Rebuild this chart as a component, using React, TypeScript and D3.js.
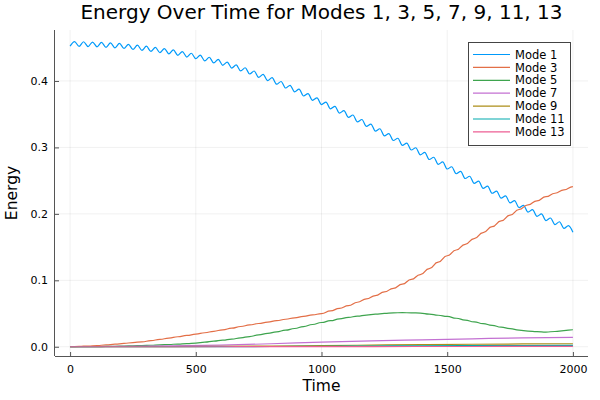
import React, { useEffect, useRef } from "react";
import * as d3 from "d3";

const modeNames = ["Mode 1", "Mode 3", "Mode 5", "Mode 7", "Mode 9", "Mode 11", "Mode 13"];
const modeColors = ["#009afa", "#e36f47", "#3ea44e", "#c371d2", "#ac8e18", "#00a9ad", "#ed5e93"];

// Mode 1: the ripple's troughs and peaks, one every 2000/112 time units
const mode1 = [
  0.4525, 0.4593, 0.4521, 0.459, 0.4518, 0.4586, 0.4514, 0.458, 0.4506, 0.4573,
  0.4499, 0.4566, 0.4489, 0.4552, 0.4475, 0.4538, 0.4461, 0.4523, 0.4444, 0.4505,
  0.4426, 0.4488, 0.4409, 0.4468, 0.4385, 0.4442, 0.436, 0.4417, 0.4335, 0.4389,
  0.4303, 0.4357, 0.4271, 0.4325, 0.4236, 0.4285, 0.4194, 0.4242, 0.4151, 0.4199,
  0.4105, 0.415, 0.4055, 0.41, 0.4005, 0.4049, 0.3951, 0.3992, 0.3894, 0.3935,
  0.3836, 0.3876, 0.3774, 0.3811, 0.3709, 0.3747, 0.3645, 0.3683, 0.3581, 0.3619,
  0.3516, 0.3554, 0.3452, 0.3488, 0.3384, 0.342, 0.3316, 0.3352, 0.3246, 0.3281,
  0.3175, 0.3209, 0.3104, 0.3138, 0.3032, 0.3066, 0.2961, 0.2995, 0.2889, 0.2924,
  0.2818, 0.2852, 0.2746, 0.2781, 0.2675, 0.2709, 0.2604, 0.2638, 0.2532, 0.2566,
  0.246, 0.2493, 0.2385, 0.2418, 0.231, 0.2343, 0.2236, 0.2271, 0.2165, 0.2199,
  0.2094, 0.2129, 0.2026, 0.2064, 0.1962, 0.2, 0.1898, 0.1938, 0.1839, 0.1881,
  0.1782, 0.1824, 0.1725,
];

// Modes 3 and 5: one value per step, one step every 2000/56 time units
const mode3 = [
  0, 0.00054, 0.0011, 0.0017, 0.0028, 0.0039, 0.005, 0.0063, 0.0075, 0.0092,
  0.0111, 0.0131, 0.0151, 0.017, 0.019, 0.0211, 0.0233, 0.0255, 0.028, 0.0305,
  0.0329, 0.035, 0.0371, 0.0393, 0.0414, 0.0436, 0.0457, 0.0479, 0.05, 0.0539,
  0.0579, 0.062, 0.067, 0.072, 0.0771, 0.0825, 0.0879, 0.0943, 0.1014, 0.1086,
  0.1177, 0.1274, 0.137, 0.1456, 0.1541, 0.1628, 0.1717, 0.1807, 0.1894, 0.198,
  0.2066, 0.2136, 0.2197, 0.2258, 0.231, 0.236, 0.241,
];
const mode5 = [
  0, 0.00007, 0.00014, 0.00024, 0.00046, 0.00067, 0.001, 0.0014, 0.0018, 0.0023,
  0.0029, 0.0034, 0.0041, 0.0048, 0.0055, 0.0069, 0.0084, 0.0099, 0.0116, 0.0134,
  0.0154, 0.0178, 0.0201, 0.0225, 0.025, 0.0275, 0.0304, 0.0335, 0.0365, 0.0392,
  0.0419, 0.0443, 0.046, 0.0476, 0.049, 0.0501, 0.0511, 0.0513, 0.051, 0.0507,
  0.0492, 0.0474, 0.0456, 0.0429, 0.0402, 0.0375, 0.0348, 0.0322, 0.0295, 0.0273,
  0.0249, 0.0235, 0.0228, 0.0221, 0.023, 0.0243, 0.0256,
];

// the small modes, every 200 time units
const coarseTime = [0, 200, 400, 600, 800, 1000, 1200, 1400, 1600, 1800, 2000];
const mode7 = [0, 0.0005, 0.0012, 0.0025, 0.0045, 0.007, 0.009, 0.0105, 0.012, 0.0135, 0.0142];
const mode9 = [0, 0.00005, 0.0002, 0.0005, 0.001, 0.0018, 0.0025, 0.0032, 0.0038, 0.0042, 0.0045];
const mode11 = [0, 0.00002, 0.0001, 0.0002, 0.0004, 0.0008, 0.0011, 0.0015, 0.0017, 0.0019, 0.002];
const mode13 = [0, 0, 0.00002, 0.00005, 0.0001, 0.0002, 0.0003, 0.0004, 0.0004, 0.0005, 0.0005];

const xTicks = [0, 500, 1000, 1500, 2000];
const yTicks = [0, 0.1, 0.2, 0.3, 0.4];
const tEnd = 2000;

const FONT = "DejaVu Sans, sans-serif";

const App = () => {
  const chartRef = useRef<SVGSVGElement | null>(null);

  useEffect(() => {
    if (!chartRef.current) return;
    document.body.style.margin = "0";

    const svg = d3.select(chartRef.current);
    svg.selectAll("*").remove();

    const width = 600;
    const height = 400;
    const margin = { top: 30, right: 12, bottom: 44, left: 55 };
    const x0 = margin.left;
    const x1 = width - margin.right;
    const y0 = height - margin.bottom;
    const y1 = margin.top;

    svg.attr("width", width).attr("height", height);
    svg.append("rect").attr("width", width).attr("height", height).attr("fill", "#fff");

    const xScale = d3.scaleLinear().domain([-60, 2060]).range([x0, x1]);
    const yScale = d3.scaleLinear().domain([-0.0139, 0.4767]).range([y0, y1]);

    // grid
    const grid = svg.append("g").attr("class", "grid");
    grid
      .selectAll(".grid-x")
      .data(xTicks)
      .enter()
      .append("line")
      .attr("x1", (d) => xScale(d))
      .attr("x2", (d) => xScale(d))
      .attr("y1", y1)
      .attr("y2", y0)
      .attr("stroke", "#000")
      .attr("stroke-opacity", 0.1)
      .attr("stroke-width", 0.6);
    grid
      .selectAll(".grid-y")
      .data(yTicks)
      .enter()
      .append("line")
      .attr("x1", x0)
      .attr("x2", x1)
      .attr("y1", (d) => yScale(d))
      .attr("y2", (d) => yScale(d))
      .attr("stroke", "#000")
      .attr("stroke-opacity", 0.1)
      .attr("stroke-width", 0.6);

    // axes (ticks pointing inward)
    const xAxis = svg
      .append("g")
      .attr("transform", `translate(0, ${y0})`)
      .call(d3.axisBottom(xScale).tickValues(xTicks).tickSize(-4).tickPadding(9).tickFormat(d3.format("d")))
      .call((g) => g.select(".domain").attr("d", `M${x0},0.5H${x1}`));
    const yAxis = svg
      .append("g")
      .attr("transform", `translate(${x0}, 0)`)
      .call(d3.axisLeft(yScale).tickValues(yTicks).tickSize(-4).tickPadding(7).tickFormat(d3.format(".1f")))
      .call((g) => g.select(".domain").attr("d", `M-0.5,${y0}V${y1}`));
    [xAxis, yAxis].forEach((ax) => {
      ax.select(".domain").attr("stroke", "#555").attr("stroke-width", 1);
      ax.selectAll(".tick line").attr("stroke", "#555");
      ax.selectAll(".tick text").attr("font-family", FONT).attr("font-size", 11).attr("fill", "#000");
    });

    // series
    const lines = svg.append("g").attr("class", "lines");
    const drawSeries = (
      times: number[],
      values: number[],
      color: string,
      curve: d3.CurveFactory,
    ) => {
      const line = d3
        .line<number>()
        .x((_, i) => xScale(times[i]))
        .y((d) => yScale(d))
        .curve(curve);
      lines
        .append("path")
        .attr("d", line(values)!)
        .attr("fill", "none")
        .attr("stroke", color)
        .attr("stroke-width", 1.2)
        .attr("stroke-linejoin", "round");
    };

    const rippleTime = mode1.map((_, i) => (i * tEnd) / (mode1.length - 1));
    const stepTime = mode3.map((_, i) => (i * tEnd) / (mode3.length - 1));

    drawSeries(rippleTime, mode1, modeColors[0], d3.curveMonotoneX);
    drawSeries(stepTime, mode3, modeColors[1], d3.curveBumpX);
    drawSeries(stepTime, mode5, modeColors[2], d3.curveBumpX);
    drawSeries(coarseTime, mode7, modeColors[3], d3.curveMonotoneX);
    drawSeries(coarseTime, mode9, modeColors[4], d3.curveMonotoneX);
    drawSeries(coarseTime, mode11, modeColors[5], d3.curveMonotoneX);
    drawSeries(coarseTime, mode13, modeColors[6], d3.curveMonotoneX);

    // legend
    const legend = svg.append("g").attr("transform", "translate(468, 42)");
    legend
      .append("rect")
      .attr("x", 0.5)
      .attr("y", 0.5)
      .attr("width", 102)
      .attr("height", 103)
      .attr("fill", "#fff")
      .attr("stroke", "#444")
      .attr("stroke-width", 1);
    const rows = legend
      .selectAll(".row")
      .data(modeNames)
      .enter()
      .append("g")
      .attr("transform", (_, i) => `translate(0, ${12.5 + i * 12.9})`);
    rows
      .append("line")
      .attr("x1", 5)
      .attr("x2", 42)
      .attr("stroke", (_, i) => modeColors[i])
      .attr("stroke-width", 1.2);
    rows
      .append("text")
      .attr("x", 47)
      .attr("dy", "0.36em")
      .attr("font-family", FONT)
      .attr("font-size", 11.5)
      .text((d) => d);

    // titles
    svg
      .append("text")
      .attr("x", (x0 + x1) / 2)
      .attr("y", 19)
      .attr("text-anchor", "middle")
      .attr("font-family", FONT)
      .attr("font-size", 20)
      .text("Energy Over Time for Modes 1, 3, 5, 7, 9, 11, 13");
    svg
      .append("text")
      .attr("x", (x0 + x1) / 2)
      .attr("y", 391)
      .attr("text-anchor", "middle")
      .attr("font-family", FONT)
      .attr("font-size", 15.5)
      .text("Time");
    svg
      .append("text")
      .attr("transform", `translate(17, ${(y0 + y1) / 2}) rotate(-90)`)
      .attr("text-anchor", "middle")
      .attr("font-family", FONT)
      .attr("font-size", 15.5)
      .text("Energy");
  }, []);

  return <svg ref={chartRef} width={600} height={400} style={{ display: "block" }}></svg>;
};

export default App;
